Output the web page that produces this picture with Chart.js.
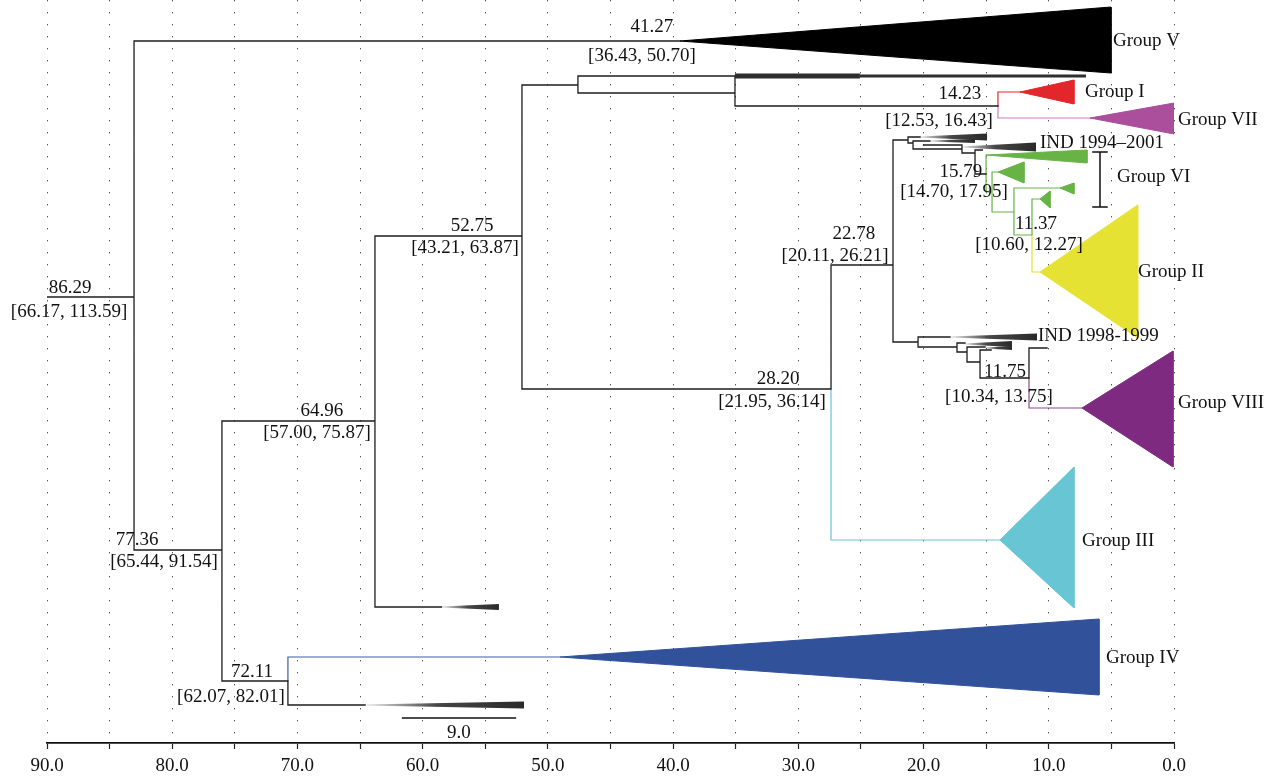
<!DOCTYPE html>
<html>
<head>
<meta charset="utf-8">
<script src="https://cdn.jsdelivr.net/npm/chart.js@4.4.0/dist/chart.umd.min.js"></script>
<style>
  html, body { margin: 0; padding: 0; background: #fff; }
  #wrap { width: 1281px; height: 777px; }
</style>
</head>
<body>
<div id="wrap"><canvas id="tree" width="1281" height="777"></canvas></div>
<script>
// x = years before present (axis runs 90 -> 0), y = row of the tree (0 at top)

// collapsed groups (triangles)
const groupNames  = ["Group V", "Group I", "Group VII", "Group III", "Group IV", "Group VIII", "Group II"];
const groupStart  = [39.45, 12.30, 6.71, 13.90, 49.03, 7.35, 10.70];
const groupEnd    = [5.03, 7.99, 0.00, 7.99, 5.99, 0.08, 2.90];
const groupRow    = [41, 92, 118, 540, 657, 408, 272];
const groupTop    = [7, 80, 103, 467, 619, 351, 205];
const groupBottom = [73, 104, 134, 608, 695, 467, 338];
const groupColors = ["#000000", "#e2262b", "#ab4f9c", "#68c5d3", "#31519b", "#7e2a81", "#e6e234"];

// small green clades of group VI
const greenStart  = [15.01, 14.06, 9.10, 10.70];
const greenEnd    = [6.95, 11.98, 7.99, 9.90];
const greenRow    = [155, 172, 188, 199];
const greenTop    = [150, 162, 183, 191];
const greenBottom = [163, 183, 194, 208];

// black tapered fans (collapsed sampled lineages)
const fanStart = [35.06, 25.08, 20.28, 19.49, 16.93, 17.89, 16.69, 15.09, 58.5, 64.6];
const fanEnd   = [25.08, 7.03, 14.93, 15.89, 11.02, 10.94, 12.94, 12.94, 53.91, 51.91];
const fanRow   = [76, 76, 137, 141, 147, 337, 344, 348, 607, 705];
const fanHalf0 = [2.5, 1.5, 0.4, 0.4, 0.4, 0.4, 0.4, 0.4, 0.5, 0.5];
const fanHalf1 = [2.5, 1.5, 3.5, 2.0, 4.5, 3.5, 3.0, 2.0, 3.0, 3.5];
const fanSolid = [true, true, false, false, false, false, false, false, false, false];

// branches [x1, y1, x2, y2]
const blackBranches = [
  [90.00, 297, 83.05, 297], [83.05, 41, 83.05, 550], [83.05, 41, 39.45, 41],
  [83.05, 550, 76.03, 550], [76.03, 421, 76.03, 681], [76.03, 421, 63.81, 421],
  [63.81, 236, 63.81, 607], [63.81, 607, 58.5, 607], [63.81, 236, 52.07, 236],
  [52.07, 85, 52.07, 389], [52.07, 85, 47.60, 85], [47.60, 76, 47.60, 93],
  [47.60, 76, 35.06, 76], [47.60, 93, 35.06, 93], [35.06, 76, 35.06, 106],
  [35.06, 106, 14.06, 106], [52.07, 389, 27.39, 389], [27.39, 265, 27.39, 389],
  [27.39, 265, 22.44, 265], [22.44, 140, 22.44, 342], [76.03, 681, 70.76, 681],
  [70.76, 681, 70.76, 705], [70.76, 705, 64.6, 705],
  // IND 1994-2001
  [22.44, 140, 21.24, 140], [21.24, 137, 21.24, 143], [21.24, 137, 20.28, 137],
  [21.24, 143, 20.84, 143], [20.84, 141, 20.84, 149], [20.84, 141, 19.49, 141],
  [20.84, 149, 16.93, 149], [16.93, 145, 16.93, 153], [16.93, 145, 20.0, 145],
  [16.93, 153, 15.89, 153], [15.89, 150, 15.89, 174], [15.89, 150, 15.3, 150],
  [15.89, 174, 15.01, 174],
  // IND 1998-1999
  [22.44, 342, 20.44, 342], [20.44, 337, 20.44, 347], [20.44, 337, 17.89, 337],
  [20.44, 347, 17.33, 347], [17.33, 343, 17.33, 352], [17.33, 343, 16.69, 343],
  [17.33, 352, 16.53, 352], [16.53, 347, 16.53, 362], [16.53, 347, 15.09, 347],
  [16.53, 362, 15.49, 362], [15.49, 350, 15.49, 378], [15.49, 350, 14.6, 350],
  [15.49, 378, 11.58, 378], [11.58, 348, 11.58, 378], [11.58, 348, 10.14, 348]
];
const redBranches    = [[14.06, 92, 14.06, 106], [14.06, 92, 12.30, 92]];
const pinkBranches   = [[14.06, 106, 14.06, 118], [14.06, 118, 6.71, 118]];
const cyanBranches   = [[27.39, 389, 27.39, 540], [27.39, 540, 13.90, 540]];
const blueBranches   = [[70.76, 657, 70.76, 681], [70.76, 657, 49.03, 657]];
const purpleBranches = [[11.58, 378, 11.58, 408], [11.58, 408, 7.35, 408]];
const greenBranches  = [
  [15.01, 155, 15.01, 192], [15.01, 192, 14.53, 192], [14.53, 172, 14.53, 212],
  [14.53, 172, 14.06, 172], [14.53, 212, 12.78, 212], [12.78, 188, 12.78, 235],
  [12.78, 188, 9.10, 188], [12.78, 235, 11.34, 235], [11.34, 199, 11.34, 235],
  [11.34, 199, 10.70, 199]
];
const yellowBranches = [[11.34, 235, 11.34, 272], [11.34, 272, 10.70, 272]];
const scaleBar       = [[61.6, 718, 52.6, 718]];
const bracketVI      = [[5.91, 152, 5.91, 207], [6.47, 152, 5.35, 152], [6.47, 207, 5.35, 207]];

// node heights and 95% HPD
const nodeAge = ["86.29", "77.36", "72.11", "64.96", "52.75", "41.27", "28.20", "22.78", "14.23", "15.79", "11.37", "11.75"];
const nodeHPD = ["[66.17, 113.59]", "[65.44, 91.54]", "[62.07, 82.01]", "[57.00, 75.87]", "[43.21, 63.87]",
  "[36.43, 50.70]", "[21.95, 36.14]", "[20.11, 26.21]", "[12.53, 16.43]", "[14.70, 17.95]", "[10.60, 12.27]", "[10.34, 13.75]"];
// label anchors (centre of text)
const ageAt = [[88.16, 288], [82.81, 540], [73.63, 672], [68.04, 411], [56.06, 226], [41.69, 27],
  [31.62, 379], [25.56, 234], [17.09, 94], [17.01, 172], [11.02, 224], [13.50, 372]];
const hpdAt = [[88.24, 312], [80.66, 562], [75.31, 697], [68.44, 433], [56.62, 248], [42.49, 56],
  [32.10, 402], [27.07, 256], [18.77, 121], [17.57, 192], [11.58, 245], [13.98, 397]];

const tipNames = ["Group V", "Group I", "Group VII", "IND 1994\u20132001", "Group VI", "Group II", "IND 1998-1999", "Group VIII", "Group III", "Group IV"];
const tipAt = [[4.87, 41], [7.11, 92], [-0.32, 120], [10.70, 143], [4.55, 177], [2.87, 272], [10.86, 336], [-0.32, 403], [7.35, 541], [5.43, 658]];

const serif = '"Liberation Serif", "DejaVu Serif", serif';

function segs(list) {
  const pts = [];
  list.forEach(s => {
    pts.push({ x: s[0], y: s[1] }, { x: s[2], y: s[3] }, { x: null, y: null });
  });
  return pts;
}

function lineSet(list, color, width) {
  return {
    data: segs(list), showLine: true, fill: false, borderColor: color,
    borderWidth: width, pointRadius: 0, spanGaps: false, borderCapStyle: 'square'
  };
}

function shapeSet(pts, color, edge) {
  return {
    data: pts, showLine: true, fill: 'shape', backgroundColor: color,
    borderColor: edge, borderWidth: edge ? 1 : 0, pointRadius: 0, tension: 0
  };
}

function triangle(x0, x1, row, top, bottom) {
  return [{ x: x0, y: row }, { x: x1, y: top }, { x: x1, y: bottom }, { x: x0, y: row }];
}

function fanGradient(chart, x0, x1) {
  const sx = chart.scales && chart.scales.x;
  if (!chart.chartArea || !sx) return '#333';
  const g = chart.ctx.createLinearGradient(sx.getPixelForValue(x0), 0, sx.getPixelForValue(x1), 0);
  g.addColorStop(0, 'rgba(60,60,60,0.15)');
  g.addColorStop(0.45, 'rgba(50,50,50,0.9)');
  g.addColorStop(1, '#2a2a2a');
  return g;
}

const datasets = [];

// triangles
groupNames.forEach((n, i) => {
  datasets.push(shapeSet(triangle(groupStart[i], groupEnd[i], groupRow[i], groupTop[i], groupBottom[i]),
    groupColors[i], groupColors[i]));
});
greenStart.forEach((s, i) => {
  datasets.push(shapeSet(triangle(s, greenEnd[i], greenRow[i], greenTop[i], greenBottom[i]), '#67b346', '#67b346'));
});

// fans
fanStart.forEach((s, i) => {
  const e = fanEnd[i], r = fanRow[i], h0 = fanHalf0[i], h1 = fanHalf1[i];
  const pts = [{ x: s, y: r - h0 }, { x: e, y: r - h1 }, { x: e, y: r + h1 }, { x: s, y: r + h0 }, { x: s, y: r - h0 }];
  const ds = shapeSet(pts, fanSolid[i] ? '#2e2e2e' : (c => fanGradient(c.chart, s, e)), null);
  ds.borderWidth = 0;
  ds.borderColor = 'rgba(0,0,0,0)';
  datasets.push(ds);
});

datasets.push(lineSet(blackBranches, '#1e1e1e', 1.3));
datasets.push(lineSet(redBranches, '#e2262b', 1.2));
datasets.push(lineSet(pinkBranches, '#cf7ec0', 1.2));
datasets.push(lineSet(cyanBranches, '#68c5d3', 1.2));
datasets.push(lineSet(blueBranches, '#3d5ea8', 1.2));
datasets.push(lineSet(purpleBranches, '#8a4a8a', 1.2));
datasets.push(lineSet(greenBranches, '#67b346', 1.2));
datasets.push(lineSet(yellowBranches, '#e6e234', 1.2));
datasets.push(lineSet(scaleBar, '#111', 1.6));
datasets.push(lineSet(bracketVI, '#111', 1.5));

const labelPlugin = {
  id: 'treeLabels',
  afterDatasetsDraw(chart) {
    const { ctx, scales: { x, y } } = chart;
    ctx.save();
    ctx.font = '19px ' + serif;
    ctx.fillStyle = '#111';
    ctx.textBaseline = 'middle';
    ctx.textAlign = 'center';
    nodeAge.forEach((t, i) => {
      ctx.fillText(t, x.getPixelForValue(ageAt[i][0]), y.getPixelForValue(ageAt[i][1]));
      ctx.fillText(nodeHPD[i], x.getPixelForValue(hpdAt[i][0]), y.getPixelForValue(hpdAt[i][1]));
    });
    ctx.fillText("9.0", x.getPixelForValue(57.1), y.getPixelForValue(733));
    ctx.textAlign = 'left';
    tipNames.forEach((t, i) => {
      ctx.fillText(t, x.getPixelForValue(tipAt[i][0]), y.getPixelForValue(tipAt[i][1]));
    });
    ctx.restore();
  }
};

new Chart(document.getElementById('tree'), {
  type: 'scatter',
  data: { datasets },
  options: {
    responsive: false,
    animation: false,
    events: [],
    layout: { padding: { left: 47, right: 107, top: 0, bottom: 0 } },
    plugins: { legend: { display: false }, tooltip: { enabled: false } },
    scales: {
      x: {
        type: 'linear', reverse: true, min: 0, max: 90,
        afterFit: s => { s.height = 34; },
        ticks: {
          stepSize: 5, autoSkip: false, maxRotation: 0, padding: 6, color: '#111',
          font: { family: serif, size: 19 },
          callback: v => (v % 10 === 0 ? v.toFixed(1) : '')
        },
        grid: { color: '#555', lineWidth: 1, drawTicks: true, tickLength: 6, tickColor: '#222', tickWidth: 1.2 },
        border: { display: true, color: '#111', width: 1.8, dash: [1.4, 10.6] }
      },
      y: { display: false, min: 0, max: 743, reverse: true }
    }
  },
  plugins: [labelPlugin]
});
</script>
</body>
</html>
